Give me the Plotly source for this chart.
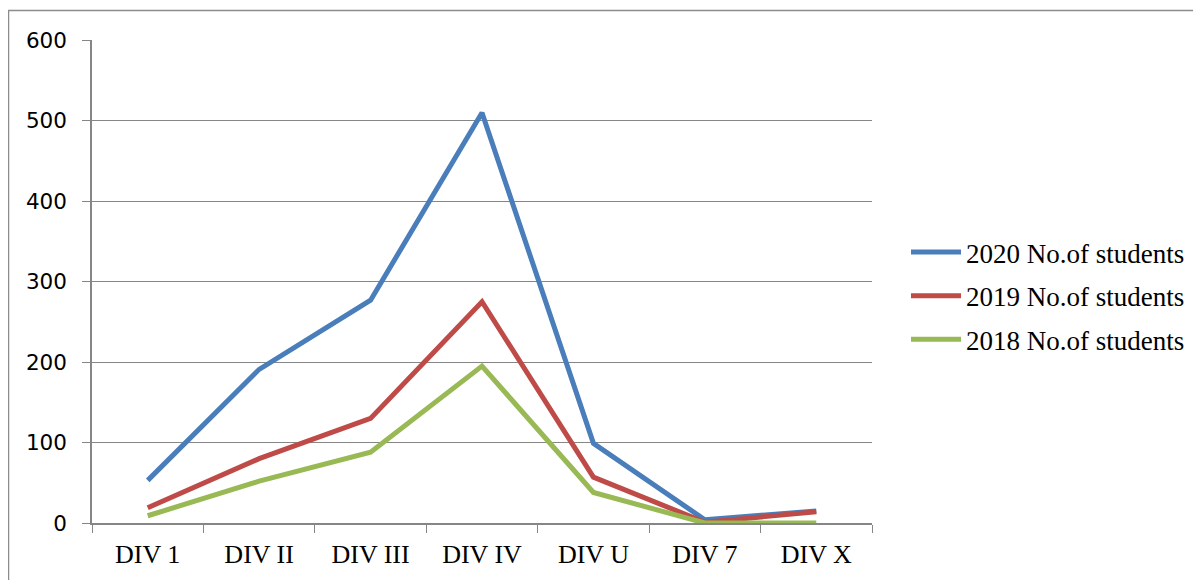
import plotly.graph_objects as go

categories = ["DIV 1", "DIV II", "DIV III", "DIV IV", "DIV U", "DIV 7", "DIV X"]
series_names = ["2020 No.of students", "2019 No.of students", "2018 No.of students"]
values_2020 = [53, 191, 277, 510, 99, 4, 15]
values_2019 = [19, 80, 130, 275, 57, 1, 14]
values_2018 = [9, 52, 88, 195, 38, 0, 0]
colors = ["#4A7EBB", "#BE4B48", "#98B954"]
y_ticks = [0, 100, 200, 300, 400, 500, 600]

fig = go.Figure()
for i, (name, vals) in enumerate(zip(series_names, [values_2020, values_2019, values_2018])):
    fig.add_trace(go.Scatter(
        x=categories, y=vals, name=name, mode="lines",
        line=dict(color=colors[i], width=5),
        legendgroup=f"g{i}",
    ))

# page body has an 8px margin, so work in shifted coordinates
OFF = 8
W, H = 1201 - OFF, 580 - OFF
left, right, top, bottom = 92 - OFF, 872 - OFF, 40 - OFF, 523 - OFF
L, R, T, B = left, W - right, top, H - bottom
pw, ph = W - L - R, H - T - B

fig.update_layout(
    width=W, height=H,
    margin=dict(l=L, r=R, t=T, b=B, autoexpand=False),
    paper_bgcolor="white", plot_bgcolor="white",
    showlegend=True,
    legend=dict(
        x=(906 - OFF - L) / pw, xanchor="left",
        y=(bottom - (228 - OFF)) / ph, yanchor="top",
        font=dict(family="Liberation Serif", size=27, color="black"),
        tracegroupgap=5.5,
        itemwidth=50,
        bgcolor="rgba(0,0,0,0)",
    ),
    xaxis=dict(
        type="category", range=[-0.5, 6.5],
        tickson="boundaries", ticks="outside", ticklen=8, tickcolor="#868686",
        showline=True, linecolor="#868686", linewidth=1.5,
        showgrid=False,
        tickfont=dict(family="Liberation Serif", size=26, color="black"),
        ticklabelstandoff=7,
    ),
    yaxis=dict(
        range=[0, 600.4], tickvals=y_ticks,
        ticks="outside", ticklen=8, tickcolor="#868686",
        showline=True, linecolor="#868686", linewidth=1.5,
        showgrid=True, gridcolor="#868686", gridwidth=1.2,
        zeroline=False,
        tickfont=dict(family="DejaVu Sans", size=21.5, color="black"),
        ticklabelstandoff=11,
    ),
    shapes=[dict(
        type="rect", xref="paper", yref="paper",
        x0=(8.5 - OFF - L) / pw, x1=1.6,
        y0=-0.3, y1=(bottom - (10.5 - OFF)) / ph,
        line=dict(color="#8C8C8C", width=1.5), fillcolor="rgba(0,0,0,0)",
        layer="below",
    )],
)

fig.write_html("out.html")
